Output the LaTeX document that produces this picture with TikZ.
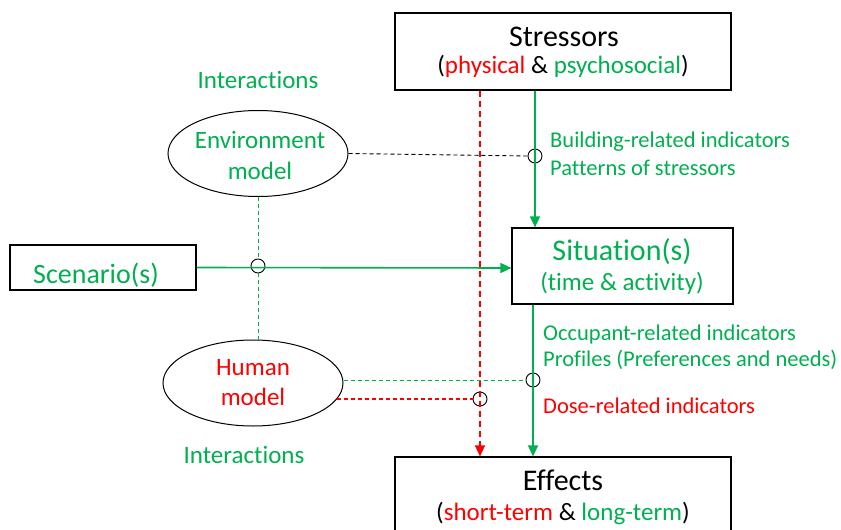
\documentclass[tikz,border=0pt]{standalone}
\usepackage{fontspec}
\setmainfont{Carlito}[Ligatures={NoCommon}]
\usetikzlibrary{arrows.meta,shapes.geometric}
\definecolor{gr}{RGB}{0,176,80}
\definecolor{rd}{RGB}{255,0,0}
\tikzset{
  box/.style={draw=black, line width=1.2pt, inner sep=0pt, fill=white},
  ell/.style={draw=black, line width=1pt, ellipse, inner sep=0pt, minimum width=180pt, minimum height=86pt},
  ring/.style={draw=black, line width=0.9pt, circle, inner sep=0pt, minimum size=14pt},
  txt/.style={inner sep=0pt, anchor=base},
  lbl/.style={inner sep=0pt, anchor=base west, text=gr, font=\fontsize{22.5}{27}\selectfont},
  big/.style={font=\fontsize{30}{36}\selectfont},
  sub/.style={font=\fontsize{25}{30}\selectfont},
  garrow/.style={draw=gr, line width=1.6pt, -{Triangle[length=11pt,width=10pt]}},
  rarrow/.style={draw=rd, line width=1.5pt, dash pattern=on 6pt off 4pt, -{Triangle[length=11pt,width=10pt]}},
  bdash/.style={draw=black, line width=0.9pt, dash pattern=on 4pt off 3pt},
  gdash/.style={draw=gr, line width=0.9pt, dash pattern=on 4pt off 3pt},
  reddash/.style={color=rd, line width=1.1pt, dash pattern=on 4pt off 3pt},
}
\begin{document}
\begin{tikzpicture}[x=1pt,y=-1pt]
\useasboundingbox (0,0) rectangle (841,530);
% boxes
\node[box, minimum width=336pt, minimum height=77pt] (str) at (563,51.5) {};
\node[box, minimum width=336pt, minimum height=100pt] (eff) at (563,507) {};
\node[box, minimum width=221pt, minimum height=76pt] (sit) at (622.5,266) {};
\node[box, minimum width=186pt, minimum height=45pt] (sc) at (103,267.5) {};
\node[ell] (env) at (258,153.5) {};
\node[ell] (hum) at (253,383) {};
% rings
\node[ring] (c1) at (535,156) {};
\node[ring] (c2) at (258,266) {};
\node[ring] (c3) at (533,380) {};
\node[ring] (c4) at (480,399) {};
% connectors
\draw[rarrow] (c4 |- str.south) -- (c4 |- eff.north);
\draw[garrow] (c1 |- str.south) -- (c1 |- sit.north);
\draw[garrow] (c3 |- sit.south) -- (c3 |- eff.north);
\draw[garrow] (sc.east) -- ([yshift=-2pt]sit.west);
\draw[bdash] (env.east) -- (c1.west);
\draw[gdash] (env.south) -- (c2.north);
\draw[gdash] (c2.south) -- (c2 |- hum.north);
\draw[gdash] (hum.east |- c3.west) -- (c3.west);
\draw[reddash] (hum.-11 |- c4.west) -- (c4.west);
% texts
\node[txt, big] (tstr) at (564,46) {Stressors};
\node[txt, sub] (tstr2) at (563,73.5) {(\textcolor{rd}{physical} \& \textcolor{gr}{psychosocial})};
\node[txt, big] (teff) at (563,490) {Effects};
\node[txt, sub] (teff2) at (563,520) {(\textcolor{rd}{short-term} \& \textcolor{gr}{long-term})};
\node[txt, big, text=gr] (tsit) at (622,260) {Situation(s)};
\node[txt, sub, text=gr] (tsit2) at (622,290) {(time \& activity)};
\node[txt, font=\fontsize{28}{34}\selectfont, text=gr] (tsc) at (96,283.3) {Scenario(s)};
\node[txt, sub, text=gr] (tenv) at (260,148.3) {Environment};
\node[txt, sub, text=gr] (tenv2) at (260,179) {model};
\node[txt, sub, text=rd] (thum) at (253,375) {Human};
\node[txt, sub, text=rd] (thum2) at (253,405) {model};
\node[txt, sub, text=gr] (ti1) at (258,88) {Interactions};
\node[txt, sub, text=gr] (ti2) at (244,463) {Interactions};
\node[lbl] (l1) at (550,147.3) {Building-related indicators};
\node[lbl] (l2) at (550,175) {Patterns of stressors};
\node[lbl] (l3) at (543,340.7) {Occupant-related indicators};
\node[lbl] (l4) at (543,366.7) {Profiles (Preferences and needs)};
\node[lbl, text=rd] (l5) at (543,413.3) {Dose-related indicators};
\end{tikzpicture}
\end{document}
